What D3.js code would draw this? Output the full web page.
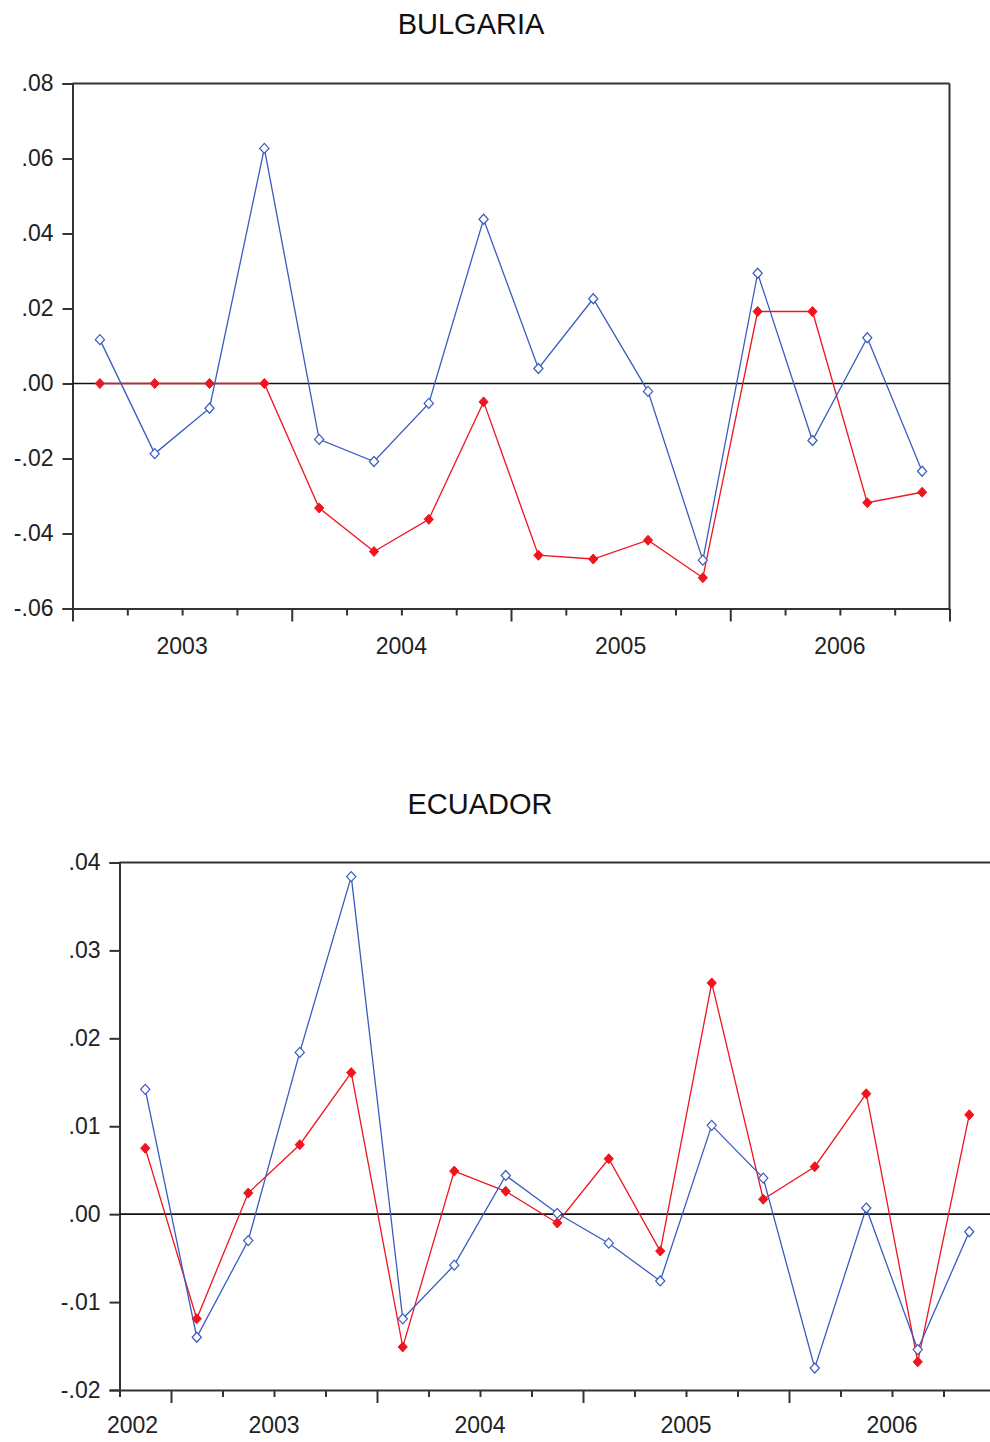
<!DOCTYPE html>
<html><head><meta charset="utf-8">
<script src="https://cdn.jsdelivr.net/npm/d3@7"></script>
<style>
html,body{margin:0;padding:0;background:#fff;}
svg{display:block;font-family:"Liberation Sans",Arial,sans-serif;}
</style></head>
<body><svg id="c" width="990" height="1442"></svg>
<script>
// ---- Data ----
const bgTitle = "BULGARIA";
const bgQuarters = ["2003Q1","2003Q2","2003Q3","2003Q4","2004Q1","2004Q2","2004Q3","2004Q4","2005Q1","2005Q2","2005Q3","2005Q4","2006Q1","2006Q2","2006Q3","2006Q4"];
const bgBlue = [0.0117,-0.0187,-0.0066,0.0627,-0.0149,-0.0208,-0.0053,0.0438,0.0040,0.0226,-0.0021,-0.0471,0.0294,-0.0152,0.0122,-0.0234];
const bgRed  = [0.0000,0.0000,0.0000,0.0000,-0.0332,-0.0448,-0.0362,-0.0049,-0.0458,-0.0468,-0.0418,-0.0518,0.0192,0.0192,-0.0318,-0.0290];
const bgYTicks = [0.08,0.06,0.04,0.02,0.00,-0.02,-0.04,-0.06];
const bgYLabels = [".08",".06",".04",".02",".00","-.02","-.04","-.06"];
const bgYears = [2003,2004,2005,2006];

const ecTitle = "ECUADOR";
const ecQuarters = ["2002Q4","2003Q1","2003Q2","2003Q3","2003Q4","2004Q1","2004Q2","2004Q3","2004Q4","2005Q1","2005Q2","2005Q3","2005Q4","2006Q1","2006Q2","2006Q3","2006Q4"];
const ecBlue = [0.0142,-0.0140,-0.0030,0.0184,0.0384,-0.0119,-0.0058,0.0044,0.0001,-0.0033,-0.0076,0.0101,0.0041,-0.0175,0.0007,-0.0154,-0.0020];
const ecRed  = [0.0075,-0.0119,0.0024,0.0079,0.0161,-0.0151,0.0049,0.0026,-0.0010,0.0063,-0.0042,0.0263,0.0017,0.0054,0.0137,-0.0168,0.0113];
const ecYTicks = [0.04,0.03,0.02,0.01,0.00,-0.01,-0.02];
const ecYLabels = [".04",".03",".02",".01",".00","-.01","-.02"];
const ecYears = [2002,2003,2004,2005,2006];

// ---- Drawing ----
const svg = d3.select("#c");
const BLUE = "#3a5cc0", RED = "#f0141e", AX = "#333";
const diamond = "M0,-5L4.6,0L0,5L-4.6,0Z";

function qNum(q){ return +q.slice(0,4) + (+q.slice(5)-0.5)/4; }

function panel(o){
  const g = svg.append("g");
  const x = d3.scaleLinear().domain(o.xDomain).range([o.left, o.right]);
  const y = d3.scaleLinear().domain(o.yDomain).range([o.bottom, o.top]);

  g.append("text").attr("x", o.titleX).attr("y", o.titleY).attr("text-anchor","middle")
    .attr("font-size", 29).attr("fill","#111").text(o.title);

  // frame
  g.append("line").attr("x1",o.left).attr("x2",o.right).attr("y1",o.top).attr("y2",o.top).attr("stroke",AX).attr("stroke-width",2);
  g.append("line").attr("x1",o.right).attr("x2",o.right).attr("y1",o.top).attr("y2",o.bottom).attr("stroke",AX).attr("stroke-width",2);

  // y axis
  const ya = d3.axisLeft(y).tickValues(o.yTicks).tickSize(10).tickPadding(9)
    .tickFormat((d,i)=>o.yLabels[i]);
  const yg = g.append("g").attr("transform",`translate(${o.left},0)`).call(ya);
  yg.select(".domain").attr("stroke",AX).attr("stroke-width",2);
  yg.selectAll(".tick line").attr("stroke",AX).attr("stroke-width",2);
  yg.selectAll(".tick text").attr("font-size",23).attr("fill","#222").attr("font-family","Liberation Sans, Arial, sans-serif");

  // x axis
  const qt = d3.range(Math.round(o.xDomain[0]*4), Math.round(o.xDomain[1]*4)+1).map(v=>v/4);
  const xa = d3.axisBottom(x).tickValues(qt).tickSizeOuter(0).tickFormat("");
  const xg = g.append("g").attr("transform",`translate(0,${o.bottom})`).call(xa);
  xg.select(".domain").attr("stroke",AX).attr("stroke-width",2);
  xg.selectAll(".tick line").attr("stroke",AX).attr("stroke-width",2)
    .attr("y2", d => Math.abs(d-Math.round(d))<1e-6 ? 13 : 7);
  xg.selectAll(".tick text").remove();
  g.selectAll(".yl").data(o.years).enter().append("text")
    .attr("x", d => Math.max(x(d+0.5), o.left+13))
    .attr("y", o.bottom + o.yearDy).attr("text-anchor","middle")
    .attr("font-size",23).attr("fill","#222").text(d=>d);

  // zero line
  g.append("line").attr("x1",o.left).attr("x2",o.right).attr("y1",y(0)).attr("y2",y(0))
    .attr("stroke","#111").attr("stroke-width",1.6);

  const line = d3.line().x((d,i)=>x(qNum(o.quarters[i]))).y(d=>y(d));
  g.append("path").datum(o.red).attr("d",line).attr("fill","none").attr("stroke",RED).attr("stroke-width",1.3);
  g.append("path").datum(o.blue).attr("d",line).attr("fill","none").attr("stroke",BLUE).attr("stroke-width",1.3);

  g.selectAll(".mr").data(o.red).enter().append("path").attr("d",diamond)
    .attr("transform",(d,i)=>`translate(${x(qNum(o.quarters[i]))},${y(d)})`)
    .attr("fill",RED).attr("stroke",RED).attr("stroke-width",1);
  g.selectAll(".mb").data(o.blue).enter().append("path").attr("d",diamond)
    .attr("transform",(d,i)=>`translate(${x(qNum(o.quarters[i]))},${y(d)})`)
    .attr("fill","#fff").attr("stroke",BLUE).attr("stroke-width",1.2);
}

panel({title:bgTitle, titleX:471, titleY:34, quarters:bgQuarters, blue:bgBlue, red:bgRed,
  yTicks:bgYTicks, yLabels:bgYLabels, years:bgYears,
  xDomain:[2003,2007], yDomain:[-0.06,0.08], left:72.5, right:949.5, top:83.5, bottom:608.5, yearDy:45});

panel({title:ecTitle, titleX:480, titleY:814, quarters:ecQuarters, blue:ecBlue, red:ecRed,
  yTicks:ecYTicks, yLabels:ecYLabels, years:ecYears,
  xDomain:[2002.75,2007], yDomain:[-0.02,0.04], left:119.5, right:995, top:862.5, bottom:1390, yearDy:43});
</script></body></html>
